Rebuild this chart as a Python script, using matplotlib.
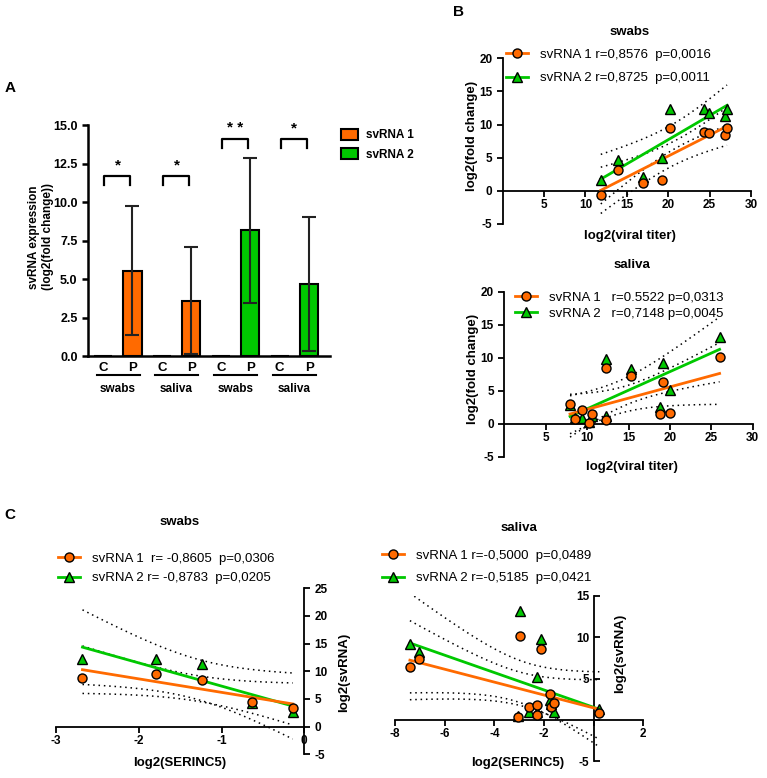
import numpy as np
import matplotlib
matplotlib.use("Agg")
import matplotlib.pyplot as plt
from matplotlib.lines import Line2D
from matplotlib.patches import Patch

plt.rcParams['font.family'] = ['Liberation Sans', 'DejaVu Sans']
plt.rcParams['axes.unicode_minus'] = False

W, H = 767, 778
ORANGE = '#FF6A00'
GREEN = '#00C800'

# ---- panel A data
a_groups = ['swabs', 'saliva', 'swabs', 'saliva']
a_c_means = [0.0, 0.0, 0.0, 0.0]
a_p_means = [5.55, 3.6, 8.15, 4.65]
a_p_sd = [4.2, 3.5, 4.7, 4.35]
a_series = ['svRNA 1', 'svRNA 1', 'svRNA 2', 'svRNA 2']
a_stars = ['*', '*', '* *', '*']

# ---- panel B data (log2 viral titer vs log2 fold change)
bs_x = [11.85, 13.9, 16.9, 19.2, 20.2, 24.3, 24.9, 26.9, 27.1]
bs_y1 = [-0.6, 3.2, 1.25, 1.65, 9.5, 8.85, 8.7, 8.45, 9.55]
bs_y2 = [1.65, 4.6, 2.15, 4.9, 12.3, 12.3, 11.8, 11.3, 12.3]
bs_labels = ['svRNA 1 r=0,8576  p=0,0016', 'svRNA 2 r=0,8725  p=0,0011']

bl_x = [7.94, 8.54, 9.35, 10.28, 10.56, 12.25, 12.25, 15.3, 18.8, 19.2, 20.0, 26.0]
bl_y1 = [2.94, 0.66, 2.03, 0.15, 1.52, 0.5, 8.5, 7.3, 1.52, 6.3, 1.67, 10.1]
bl_y2 = [2.9, 0.9, 0.9, 0.3, 1.1, 1.2, 9.8, 8.3, 2.6, 9.2, 5.07, 13.2]
bl_labels = ['svRNA 1   r=0.5522 p=0,0313', 'svRNA 2   r=0,7148 p=0,0045']

# ---- panel C data (log2 SERINC5 vs log2 svRNA)
cs_x = [-2.68, -1.79, -1.23, -0.63, -0.14]
cs_y1 = [8.86, 9.5, 8.4, 4.4, 3.4]
cs_y2 = [12.3, 12.3, 11.3, 4.2, 2.7]
cs_labels = ['svRNA 1  r= -0,8605  p=0,0306', 'svRNA 2 r= -0,8783  p=0,0205']

cl_x = [-7.4, -7.03, -3.03, -2.97, -2.59, -2.3, -2.27, -2.12, -1.76, -1.73, -1.6, 0.23]
cl_y1 = [6.37, 7.34, 0.28, 10.16, 1.6, 1.8, 0.6, 8.55, 3.15, 1.6, 2.0, 0.8]
cl_y2 = [9.2, 8.27, 0.5, 13.2, 0.9, 5.16, 1.0, 9.76, 2.4, 1.9, 0.9, 1.3]
cl_labels = ['svRNA 1 r=-0,5000  p=0,0489', 'svRNA 2 r=-0,5185  p=0,0421']

# two-sided 95% t values by degrees of freedom
T95 = {3: 3.182, 7: 2.365, 10: 2.228}

fig = plt.figure(figsize=(W / 100, H / 100), dpi=100)


def px_axes(l, t, r, b):
    return fig.add_axes([l / W, 1 - b / H, (r - l) / W, (b - t) / H])


def ftext(x, y, s, **kw):
    fig.text(x / W, 1 - y / H, s, ha=kw.pop('ha', 'center'), va=kw.pop('va', 'center'), **kw)


def reg_plot(ax, x, y1, y2):
    for y, c in [(y2, GREEN), (y1, ORANGE)]:
        x_ = np.array(x); y_ = np.array(y)
        n = len(x_)
        b, a = np.polyfit(x_, y_, 1)
        xs = np.linspace(x_.min(), x_.max(), 60)
        yh = a + b * xs
        res = y_ - (a + b * x_)
        s = np.sqrt(np.sum(res ** 2) / (n - 2))
        sxx = np.sum((x_ - x_.mean()) ** 2)
        se = s * np.sqrt(1 / n + (xs - x_.mean()) ** 2 / sxx)
        t = T95[n - 2]
        ax.plot(xs, yh + t * se, color='k', ls=(0, (1, 2.5)), lw=1.1, zorder=2)
        ax.plot(xs, yh - t * se, color='k', ls=(0, (1, 2.5)), lw=1.1, zorder=2)
        ax.plot(xs, yh, color=c, lw=2, zorder=3)
    ax.plot(x, y2, ls='none', marker='^', ms=6.5, mfc=GREEN, mec='k', mew=1, zorder=4)
    ax.plot(x, y1, ls='none', marker='o', ms=6.5, mfc=ORANGE, mec='k', mew=1, zorder=5)


def reg_legend(ax, labels, x, y, spacing):
    hs = [Line2D([0], [0], color=ORANGE, lw=2, marker='o', ms=6.5, mfc=ORANGE, mec='k'),
          Line2D([0], [0], color=GREEN, lw=2, marker='^', ms=6.5, mfc=GREEN, mec='k')]
    ax.legend(hs, labels, loc='upper left', bbox_to_anchor=(x / W, 1 - y / H),
              bbox_transform=fig.transFigure, frameon=False, fontsize=9.5,
              handlelength=1.7, handletextpad=0.9, labelspacing=spacing,
              borderpad=0, borderaxespad=0)


def style_ax(ax, lw=1.3, size=8.5):
    for s in ax.spines.values():
        s.set_linewidth(lw)
    ax.tick_params(width=lw, length=4, labelsize=size)
    for lab in ax.get_xticklabels() + ax.get_yticklabels():
        lab.set_fontweight('bold')


# ================= Panel A =================
axA = px_axes(88, 125, 330, 356)
pos_c = np.arange(4) * 2
pos_p = pos_c + 1
cols = [ORANGE if s == 'svRNA 1' else GREEN for s in a_series]
axA.bar(pos_c, a_c_means, width=0.62, color=cols, edgecolor='k', lw=1.5)
axA.bar(pos_p, a_p_means, width=0.62, color=cols, edgecolor='k', lw=1.5, zorder=2)
axA.errorbar(pos_p, a_p_means, yerr=a_p_sd, fmt='none', ecolor='#222222',
             elinewidth=1.5, capsize=5, capthick=1.5, zorder=3)
axA.set_xlim(-0.51, 7.71)
axA.set_ylim(0, 15)
axA.set_yticks(np.arange(0, 15.1, 2.5))
axA.set_yticklabels(['%.1f' % v for v in np.arange(0, 15.1, 2.5)])
axA.set_xticks(np.r_[pos_c, pos_p])
axA.set_xticklabels(['C'] * 4 + ['P'] * 4)
axA.spines['top'].set_visible(False)
axA.spines['right'].set_visible(False)
style_ax(axA, lw=1.8, size=9)
axA.tick_params(axis='x', length=0, pad=4, labelsize=9.5)

bracket_h = [11.7, 11.7, 14.1, 14.1]
trans = axA.get_xaxis_transform()
for i in range(4):
    h = bracket_h[i]
    axA.plot([pos_c[i] + 0.05, pos_c[i] + 0.05, pos_p[i] - 0.08, pos_p[i] - 0.08],
             [h - 0.6, h, h, h - 0.6], color='k', lw=1.6)
    axA.text((pos_c[i] + pos_p[i]) / 2, h + 0.25, a_stars[i], ha='center', va='bottom',
             fontsize=11, fontweight='bold')
    axA.plot([pos_c[i] - 0.22, pos_p[i] + 0.24], [-0.082, -0.082], color='k', lw=1.5,
             transform=trans, clip_on=False)
    axA.text((pos_c[i] + pos_p[i]) / 2, -0.145, a_groups[i], transform=trans,
             ha='center', va='center', fontsize=8.5, fontweight='bold')

axA.legend([Patch(facecolor=ORANGE, edgecolor='k', lw=1.5),
            Patch(facecolor=GREEN, edgecolor='k', lw=1.5)], ['svRNA 1', 'svRNA 2'],
           loc='upper left', bbox_to_anchor=(341 / W, 1 - 129 / H), bbox_transform=fig.transFigure,
           frameon=False, prop={'weight': 'bold', 'size': 8.5}, handlelength=1.4,
           handleheight=1.0, handletextpad=0.7, labelspacing=0.6, borderpad=0, borderaxespad=0)
ftext(41, 237, 'svRNA expression\n(log2(fold change))', rotation=90, fontsize=8.5,
      fontweight='bold', linespacing=1.2)
ftext(10, 88, 'A', fontsize=11, fontweight='bold')


# ================= Panel B =================
def panel_b(box, x, y1, y2, labels, title, title_y, leg_xy, spacing, xlab_y):
    ax = px_axes(*box)
    reg_plot(ax, x, y1, y2)
    ax.set_xlim(0, 30)
    ax.set_ylim(-5, 20)
    ax.set_xticks([5, 10, 15, 20, 25, 30])
    ax.set_yticks([-5, 0, 5, 10, 15, 20])
    ax.spines['top'].set_visible(False)
    ax.spines['right'].set_visible(False)
    ax.spines['bottom'].set_position(('data', 0))
    style_ax(ax, lw=1.3)
    ax.tick_params(axis='x', pad=2)
    cx = (box[0] + box[2]) / 2 + 3
    ftext(cx, title_y, title, fontsize=9.5, fontweight='bold')
    ftext(cx, xlab_y, 'log2(viral titer)', fontsize=9.5, fontweight='bold')
    ftext(box[0] - 31, (box[1] + box[3]) / 2 - 5, 'log2(fold change)', rotation=90,
          fontsize=9.5, fontweight='bold')
    reg_legend(ax, labels, leg_xy[0], leg_xy[1], spacing)
    return ax


panel_b((502.7, 58.3, 751, 224), bs_x, bs_y1, bs_y2, bs_labels, 'swabs', 32,
        (506, 48.5), 0.86, 236)
panel_b((504.3, 291.7, 752.7, 456.7), bl_x, bl_y1, bl_y2, bl_labels, 'saliva', 265,
        (515, 291.5), 0.28, 467)
ftext(458, 12, 'B', fontsize=11, fontweight='bold')

# ================= Panel C =================
axC1 = px_axes(56, 588.3, 304.3, 754.3)
reg_plot(axC1, cs_x, cs_y1, cs_y2)
axC1.set_xlim(-3, 0)
axC1.set_ylim(-5, 25)
axC1.set_xticks([-3, -2, -1, 0])
axC1.set_yticks([-5, 0, 5, 10, 15, 20, 25])
axC1.spines['top'].set_visible(False)
axC1.spines['left'].set_visible(False)
axC1.spines['bottom'].set_position(('data', 0))
axC1.yaxis.tick_right()
style_ax(axC1, lw=1.3)
axC1.tick_params(axis='x', pad=2)
ftext(180, 522, 'swabs', fontsize=9.5, fontweight='bold')
ftext(180, 763, 'log2(SERINC5)', fontsize=9.5, fontweight='bold')
ftext(344, 672, 'log2(svRNA)', rotation=90, fontsize=9.5, fontweight='bold')
reg_legend(axC1, cs_labels, 58, 552.5, 0.55)

axC2 = px_axes(395, 596, 643.3, 761)
reg_plot(axC2, cl_x, cl_y1, cl_y2)
axC2.set_xlim(-8, 2)
axC2.set_ylim(-5, 15)
axC2.set_xticks([-8, -6, -4, -2, 0, 2])
axC2.set_xticklabels(['-8', '-6', '-4', '-2', '', '2'])
axC2.set_yticks([-5, 0, 5, 10, 15])
axC2.set_yticklabels(['-5', '', '5', '10', '15'])
axC2.spines['top'].set_visible(False)
axC2.spines['right'].set_visible(False)
axC2.spines['left'].set_position(('data', 0))
axC2.spines['bottom'].set_position(('data', 0))
style_ax(axC2, lw=1.3)
axC2.tick_params(axis='y', direction='in', pad=3)
axC2.tick_params(axis='x', pad=2)
ftext(519, 528, 'saliva', fontsize=9.5, fontweight='bold')
ftext(518, 763, 'log2(SERINC5)', fontsize=9.5, fontweight='bold')
ftext(620, 653, 'log2(svRNA)', rotation=90, fontsize=9.5, fontweight='bold')
reg_legend(axC2, cl_labels, 382, 549.5, 0.78)
ftext(10, 515, 'C', fontsize=11, fontweight='bold')

fig.savefig('out.png', dpi=100)
